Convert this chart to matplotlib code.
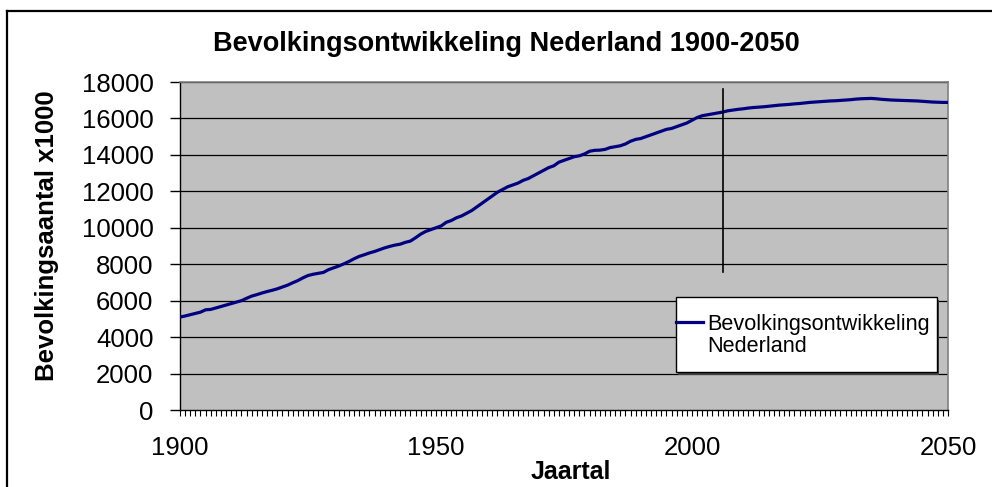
import numpy as np
import matplotlib
matplotlib.use('Agg')
import matplotlib.pyplot as plt
from matplotlib.lines import Line2D
from matplotlib.patches import Rectangle
from matplotlib.ticker import MultipleLocator

plt.rcParams['font.family'] = ['Liberation Sans', 'DejaVu Sans']

years = list(range(1900, 2051))
population = [
    5100, 5160, 5230, 5300, 5370, 5500, 5520, 5600, 5680, 5760,   # 1900-1909
    5840, 5920, 6000, 6130, 6250, 6330, 6420, 6500, 6570, 6650,   # 1910-1919
    6750, 6850, 6980, 7100, 7250, 7380, 7450, 7500, 7550, 7700,   # 1920-1929
    7800, 7900, 8020, 8150, 8300, 8430, 8520, 8620, 8700, 8800,   # 1930-1939
    8900, 8980, 9050, 9100, 9200, 9270, 9450, 9650, 9800, 9900,   # 1940-1949
    10000, 10100, 10300, 10400, 10550, 10650, 10800, 10950, 11150, 11350,  # 1950-1959
    11550, 11750, 11950, 12100, 12250, 12350, 12450, 12600, 12700, 12850,  # 1960-1969
    13000, 13150, 13300, 13400, 13600, 13700, 13800, 13900, 13950, 14050,  # 1970-1979
    14200, 14250, 14260, 14300, 14400, 14450, 14500, 14600, 14750, 14850,  # 1980-1989
    14900, 15000, 15100, 15200, 15300, 15400, 15450, 15550, 15650, 15750,  # 1990-1999
    15900, 16050, 16150, 16200, 16250, 16300, 16350, 16420, 16460, 16500,  # 2000-2009
    16530, 16570, 16600, 16620, 16640, 16670, 16700, 16730, 16750, 16770,  # 2010-2019
    16800, 16820, 16850, 16880, 16900, 16920, 16940, 16960, 16970, 16990,  # 2020-2029
    17010, 17030, 17060, 17080, 17090, 17100, 17080, 17050, 17030, 17010,  # 2030-2039
    17000, 16990, 16980, 16970, 16960, 16940, 16920, 16900, 16890, 16880,  # 2040-2049
    16880,                                                                  # 2050
]

year_labels = [1900, 1950, 2000, 2050]
y_ticks = list(range(0, 18001, 2000))

marker_year = 2006          # black vertical line "now"
marker_span = (7600, 17600)

title = 'Bevolkingsontwikkeling Nederland 1900-2050'
series_label = 'Bevolkingsontwikkeling\nNederland'

fig = plt.figure(figsize=(9.92, 4.87), dpi=100)
ax = fig.add_axes([180 / 992, 77 / 487, 768 / 992, 328 / 487])
ax.set_facecolor('#C0C0C0')

ax.set_xlim(1900, 2050)
ax.set_ylim(0, 18000)

for yv in y_ticks[1:]:
    ax.axhline(yv, color='black', linewidth=0.9, zorder=1)

ax.plot(years, population, color='#000080', linewidth=2.3, zorder=3,
        solid_capstyle='butt')
ax.plot([marker_year, marker_year], marker_span, color='black',
        linewidth=1.2, zorder=4)

ax.set_yticks(y_ticks)
ax.set_xticks(year_labels)
ax.xaxis.set_minor_locator(MultipleLocator(1))
ax.tick_params(axis='y', direction='out', length=7, width=1, pad=12,
               labelsize=18.5)
ax.tick_params(axis='x', which='major', direction='out', length=4, width=0.8,
               pad=15, labelsize=18.5)
ax.tick_params(axis='x', which='minor', direction='out', length=4, width=0.8)

for side in ['top', 'right']:
    ax.spines[side].set_color('#808080')
    ax.spines[side].set_linewidth(1.2)
for side in ['left', 'bottom']:
    ax.spines[side].set_color('black')
    ax.spines[side].set_linewidth(1.0)

ax.set_title(title, fontsize=19.5, fontweight='bold', pad=22, x=0.4245)
ax.set_xlabel('Jaartal', fontsize=18, fontweight='bold')
ax.xaxis.set_label_coords(0.509, -0.152)
ax.set_ylabel('Bevolkingsaantal x1000', fontsize=18.5, fontweight='bold')
ax.yaxis.set_label_coords(-0.158, 0.53)

# legend drawn by hand so the sample line sits on the first text line
lx0, lx1 = (676 - 180) / 768, (937 - 180) / 768
ly0, ly1 = (410 - 372) / 328, (410 - 297) / 328
ax.add_patch(Rectangle((lx0 + 0.003, ly0 - 0.008), lx1 - lx0, ly1 - ly0,
                       transform=ax.transAxes, facecolor='#404040',
                       edgecolor='none', zorder=5))
ax.add_patch(Rectangle((lx0, ly0), lx1 - lx0, ly1 - ly0,
                       transform=ax.transAxes, facecolor='white',
                       edgecolor='black', linewidth=1.0, zorder=6))
ly_line = (410 - 322) / 328
ax.add_line(Line2D([lx0, (703 - 180) / 768], [ly_line, ly_line],
                   transform=ax.transAxes, color='#000080', linewidth=2.3,
                   zorder=7))
ax.text((707 - 180) / 768, (410 - 314) / 328, series_label,
        transform=ax.transAxes, fontsize=15.6, va='top', ha='left', zorder=7,
        linespacing=1.08)

# outer chart frame (cut off at right and bottom in the reference)
fig.add_artist(Line2D([7 / 992, 1.0], [1 - 11 / 487, 1 - 11 / 487],
                      color='black', linewidth=1.6))
fig.add_artist(Line2D([7 / 992, 7 / 992], [0.0, 1 - 11 / 487],
                      color='black', linewidth=1.6))

fig.savefig('out.png', dpi=100)
